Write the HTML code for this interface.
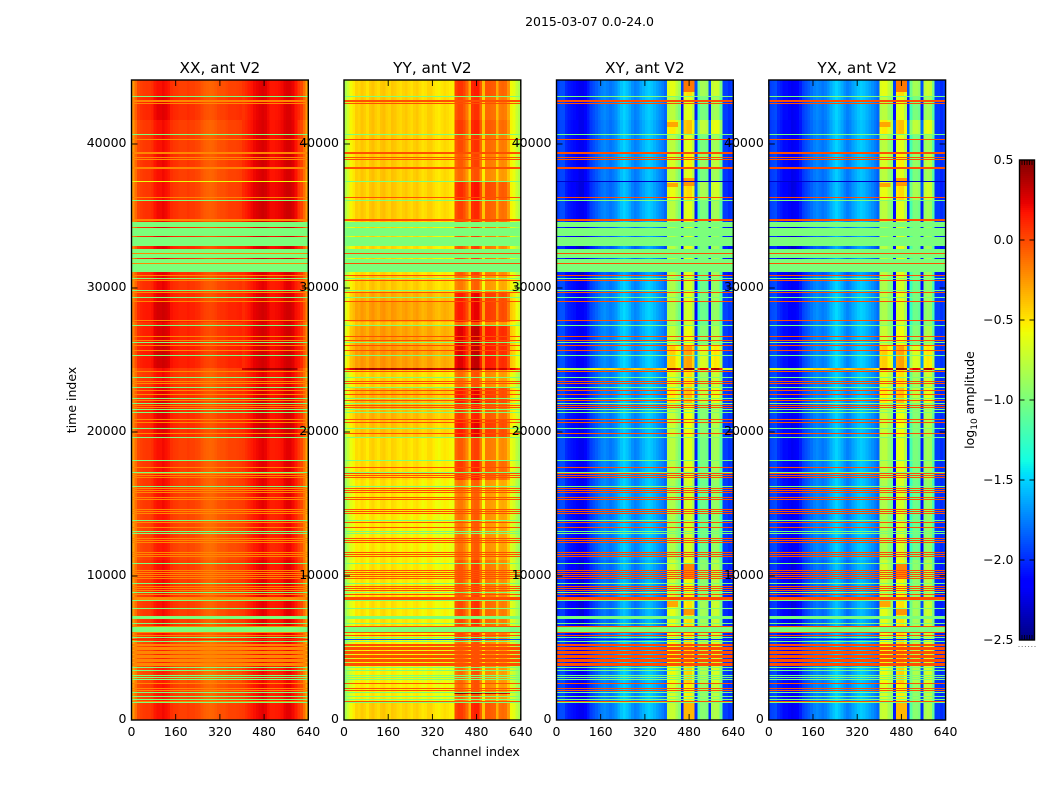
<!DOCTYPE html>
<html lang="en">
<head>
<meta charset="utf-8">
<title>2015-03-07 amplitude waterfall</title>
<style>
html,body{margin:0;padding:0;background:#fff;}
svg{display:block;}
text{font-family:"DejaVu Sans","Liberation Sans",sans-serif;font-size:12.5px;fill:#000;}
</style>
</head>
<body>
<svg id="figure" xmlns="http://www.w3.org/2000/svg" width="1050" height="800" viewBox="0 0 1050 800">
  <g id="heatmaps" shape-rendering="crispEdges"></g>
  <g id="frames"></g>
  <g id="colorbar"></g>
  <g id="labels">
    <text x="589.5" y="26" text-anchor="middle">2015-03-07 0.0-24.0</text>
    <text transform="translate(76,400) rotate(-90)" text-anchor="middle">time index</text>
    <text x="476" y="756" text-anchor="middle">channel index</text>
    <text transform="translate(974,400) rotate(-90)" text-anchor="middle">log<tspan font-size="9" dy="3">10</tspan><tspan dy="-3"> amplitude</tspan></text>
  </g>
</svg>
<script>
// ---------- chart data ----------
const panelNames = ["XX", "YY", "XY", "YX"];
const channelTicks = [0, 160, 320, 480, 640];
const timeTicks = [0, 10000, 20000, 30000, 40000];
const colorbarTicks = [0.5, 0.0, -0.5, -1.0, -1.5, -2.0, -2.5];
const channelMax = 640;
const timeMax = 44444;
const colorMin = -2.5;
const colorMax = 0.5;
const channelBinWidth = 10;
const highBandStart = 400;
const highBandEnd = 600;
const rowSpan = 69.44;

// log10 amplitude per channel bin (10 channels each), one array per polarisation
const xxProfile = [-0.25,-0.12,0,0.03,0.05,0.06,0.06,0.08,0.15,0.18,0.18,0.2,0.18,0.15,0.08,0.06,0.05,0.03,0.03,0.03,0.05,0.03,0.03,0.01,0,-0.04,-0.07,-0.08,-0.09,-0.08,-0.06,-0.03,-0.02,-0.02,0,0.02,0.02,0.02,0.03,0.04,0.05,0.08,0.12,0.15,0.18,0.2,0.22,0.24,0.22,0.18,0.14,0.14,0.15,0.16,0.18,0.22,0.24,0.24,0.2,0.14,0.06,0,-0.12,-0.28];
const yyProfile = [-0.8,-0.68,-0.55,-0.5,-0.42,-0.44,-0.39,-0.42,-0.47,-0.4,-0.37,-0.42,-0.45,-0.39,-0.37,-0.42,-0.44,-0.38,-0.4,-0.44,-0.46,-0.42,-0.4,-0.44,-0.47,-0.42,-0.4,-0.45,-0.49,-0.47,-0.42,-0.42,-0.47,-0.5,-0.52,-0.48,-0.45,-0.47,-0.5,-0.52,-0.1,-0.05,-0.05,-0.1,-0.2,-0.42,0,0.03,0.03,-0.15,-0.48,-0.15,-0.15,-0.17,-0.18,-0.42,-0.22,-0.2,-0.22,-0.35,-0.55,-0.6,-0.72,-0.8];
const xyProfile = [-1.95,-1.9,-1.9,-2,-2.05,-2.08,-2.1,-2.15,-2.2,-2.2,-2.12,-2.05,-1.95,-1.9,-1.85,-1.8,-1.75,-1.72,-1.75,-1.78,-1.75,-1.7,-1.62,-1.55,-1.5,-1.55,-1.62,-1.7,-1.75,-1.72,-1.65,-1.6,-1.55,-1.52,-1.55,-1.6,-1.65,-1.7,-1.75,-1.82,-0.75,-0.72,-0.72,-0.85,-0.95,-2.05,-0.62,-0.58,-0.58,-0.75,-2,-1.15,-0.95,-0.95,-1,-2,-0.85,-0.8,-0.82,-1.1,-1.95,-1.95,-2,-1.95];
const yxProfile = [-1.95,-1.92,-1.9,-2,-2.05,-2.1,-2.1,-2.15,-2.2,-2.18,-2.12,-2.05,-1.95,-1.9,-1.85,-1.8,-1.75,-1.72,-1.75,-1.78,-1.75,-1.7,-1.62,-1.55,-1.5,-1.55,-1.62,-1.7,-1.75,-1.72,-1.65,-1.6,-1.55,-1.52,-1.55,-1.6,-1.65,-1.7,-1.75,-1.82,-0.75,-0.72,-0.72,-0.85,-0.95,-2.05,-0.62,-0.58,-0.58,-0.75,-2,-1.15,-0.95,-0.95,-1,-2,-0.85,-0.8,-0.82,-1.1,-1.95,-1.95,-2,-1.95];

// time zones: upper time of each zone and its amplitude offset in low / high channel bands
const zoneTops = [44444,43333,41667,40694,39444,38333,37431,36111,34583,30903,29653,29028,27639,27361,26042,24444,24306,23056,21944,20833,19583,18056,16667,14583,11111,8333,5556,4097,4028,2569,1875,1806,1181];
const xxLowOffsets  = [0,0.05,0,0,0.02,0,0,0.02,0.05,0.03,0.05,0.1,0.02,0.08,0.1,0,0,0.05,0.05,0.05,0,0,0,-0.03,0,0,-0.05,-0.05,-0.05,-0.02,-0.02,-0.02,0];
const xxHighOffsets = [0.02,0.02,0.03,0.03,0.05,0.03,0.06,0.06,0.04,0,0.03,0.05,0.02,0.05,0.05,0.25,0,0.03,0.03,0.05,0,0.01,0,-0.03,0,0,-0.03,-0.03,-0.03,-0.02,-0.02,-0.02,0];
const yyLowOffsets  = [-0.02,0,0,0,0,0,0,0,-0.05,0,0.1,0.14,0.03,0.14,0.16,0.82,-0.02,0.08,0.06,0.02,-0.05,-0.05,-0.08,-0.1,-0.08,-0.08,-0.12,-0.12,-0.12,-0.1,-0.1,-0.1,-0.02];
const yyHighOffsets = [0.12,0.05,0.1,0.05,0,-0.05,0.15,0.08,0,-0.1,0.2,0.2,-0.05,0.3,0.3,0.5,-0.05,0.2,0.1,0.2,0,0.1,-0.1,-0.08,0,0.05,-0.05,0.5,-0.05,-0.05,0.55,-0.05,0.1];
const xyLowOffsets  = [0,0,-0.02,0,0,-0.02,-0.05,0,-0.1,0,0,0.02,0,0,0.02,1.3,0,0,0,-0.02,0,0,0,0,-0.05,-0.05,0,0,0,0,0,0,0];
const xyHighOffsets = [0.1,-0.05,0.2,-0.05,0.05,-0.05,0.12,-0.05,-0.05,-0.1,-0.05,-0.1,-0.1,0,0.3,1.2,0.1,0.2,0,0,-0.05,-0.05,-0.1,-0.1,0.02,0.1,0.15,0.15,0.15,0.05,0.05,0.05,0];

// hot patches seen in the cross-hand panels
const patchTimeTops = [44444,41528,37639,37292,10903,8264,7778,1181];
const patchTimeBottoms = [43611,41181,37083,37014,9861,7847,7292,0];
const patchChannelStarts = [460,400,460,400,460,400,460,460];
const patchChannelEnds = [500,440,500,440,500,440,500,500];
const patchValues = [-0.15,-0.3,-0.25,-0.3,-0.2,-0.3,-0.25,-0.35];

// flagged rows (upper time of each single row)
const orangeRows = [43056,42986,42847,40347,39444,39375,39097,38958,38403,38333,36319,34792,34722,32431,31736,30903,30556,29722,29097,27778,26667,26389,26042,25694,24236,23542,23403,22917,22639,22222,21875,21736,20903,20694,19931,17569,17153,17014,16875,16111,15972,15833,15486,15347,14653,14514,14375,13750,13403,12639,12500,12361,11667,11528,11389,10417,10278,10139,10000,9861,9306,9167,9028,8750,8542,8472,8403,6528,6111,5903,5278,5208,5069,5000,4931,4792,4722,4653,4514,4444,4375,4236,4167,4097,3958,3889,3819,2569,2222,2083,1319];
const orangeValueByPanel = [-0.2,-0.02,-0.02,-0.02];
const greenRows = [43333,40694,36111,30694,29861,29375,27431,26250,25347,23819,23125,22361,22014,21597,21389,20278,19653,18056,17222,16250,13889,13125,12986,10903,9514,8889,8333,7778,7222,7153,7083,6736,5764,5486,3681,3472,3125,2986,2847,1944,1667,1458,1250];
const greenBandTops = [34583,34167,33542,32708,32014,6458];
const greenBandBottoms = [34236,33611,32917,32083,31111,6111];
const flagValue = -1.0;
const oddRowTimes = [37431,5625];
const oddRowXX = [-0.6,0.1];
const oddRowYY = [-1.0,-1.9];
const oddRowXY = [-2.3,-2.0];

// ---------- layout ----------
const plotTop = 80, plotBottom = 720, plotWidth = 176.8;
const panelLefts = [131.5, 344, 556.5, 768.8];
const cbar = {x: 1019.5, y: 160, w: 15, h: 480};
const NS = "http://www.w3.org/2000/svg";

function yScale(t) { return plotBottom - t * (plotBottom - plotTop) / timeMax; }
function xScale(ch, left) { return left + ch * plotWidth / channelMax; }
function cbarScale(v) { return cbar.y + (colorMax - v) * cbar.h / (colorMax - colorMin); }

function ramp(f, pts) {
  for (let i = 1; i < pts.length; i++) {
    if (f <= pts[i][0]) {
      const a = pts[i - 1], b = pts[i];
      return a[1] + (b[1] - a[1]) * (f - a[0]) / (b[0] - a[0]);
    }
  }
  return pts[pts.length - 1][1];
}
function jet(v) {
  const f = Math.max(0, Math.min(1, (v - colorMin) / (colorMax - colorMin)));
  const r = ramp(f, [[0,0],[0.35,0],[0.66,1],[0.89,1],[1,0.5]]);
  const g = ramp(f, [[0,0],[0.125,0],[0.375,1],[0.64,1],[0.91,0],[1,0]]);
  const b = ramp(f, [[0,0.5],[0.11,1],[0.34,1],[0.65,0],[1,0]]);
  return "rgb(" + Math.round(r * 255) + "," + Math.round(g * 255) + "," + Math.round(b * 255) + ")";
}
function svgEl(tag, parent, attrs) {
  const el = document.createElementNS(NS, tag);
  for (const k in attrs) el.setAttribute(k, attrs[k]);
  parent.appendChild(el);
  return el;
}

const heatmaps = document.getElementById("heatmaps");
const frames = document.getElementById("frames");
const labels = document.getElementById("labels");
const colorbar = document.getElementById("colorbar");

const profiles = [xxProfile, yyProfile, xyProfile, yxProfile];
const lowOffsets = [xxLowOffsets, yyLowOffsets, xyLowOffsets, xyLowOffsets];
const highOffsets = [xxHighOffsets, yyHighOffsets, xyHighOffsets, xyHighOffsets];
const oddRowValues = [oddRowXX, oddRowYY, oddRowXY, oddRowXY];

function drawRowRect(group, left, topT, bottomT, value, name) {
  const y0 = Math.round(yScale(topT));
  const y1 = Math.round(yScale(bottomT));
  const r = svgEl("rect", group, {x: left, y: y0, width: plotWidth, height: Math.max(1, y1 - y0), fill: jet(value)});
  
  
}

panelNames.forEach(function (name, p) {
  const left = panelLefts[p];
  const group = svgEl("g", heatmaps, {});
  
  

  // zone cells
  zoneTops.forEach(function (top, z) {
    const bottom = z + 1 < zoneTops.length ? zoneTops[z + 1] : 0;
    const y0 = Math.round(yScale(top));
    const y1 = Math.round(yScale(bottom));
    profiles[p].forEach(function (base, b) {
      const ch = b * channelBinWidth;
      const inHigh = ch >= highBandStart && ch < highBandEnd;
      const value = base + (inHigh ? highOffsets[p][z] : lowOffsets[p][z]);
      const x0 = xScale(ch, left);
      const x1 = xScale(ch + channelBinWidth, left);
      const cell = svgEl("rect", group, {x: x0.toFixed(2), y: y0, width: (x1 - x0 + 0.4).toFixed(2), height: y1 - y0, fill: jet(value)});
      
      
    });
  });

  // hot patches (cross-hand panels only)
  if (p >= 2) {
    patchValues.forEach(function (value, i) {
      const x0 = xScale(patchChannelStarts[i], left);
      const x1 = xScale(patchChannelEnds[i], left);
      const y0 = Math.round(yScale(patchTimeTops[i]));
      const y1 = Math.round(yScale(patchTimeBottoms[i]));
      const patch = svgEl("rect", group, {x: x0.toFixed(2), y: y0, width: (x1 - x0).toFixed(2), height: y1 - y0, fill: jet(value)});
      
      
    });
  }

  // flagged bands and rows
  greenBandTops.forEach(function (top, i) {
    drawRowRect(group, left, top, greenBandBottoms[i], flagValue, "flagged-band");
  });
  greenRows.forEach(function (t) {
    drawRowRect(group, left, t, t - rowSpan, flagValue, "flagged-row");
  });
  orangeRows.forEach(function (t) {
    drawRowRect(group, left, t, t - rowSpan, orangeValueByPanel[p], "saturated-row");
  });
  oddRowTimes.forEach(function (t, i) {
    drawRowRect(group, left, t, t - rowSpan, oddRowValues[p][i], "odd-row");
  });

  // frame
  const frame = svgEl("rect", frames, {x: left, y: plotTop, width: plotWidth, height: plotBottom - plotTop, fill: "none", stroke: "#000", "stroke-width": 1.4});
  
  

  // x ticks
  channelTicks.forEach(function (ch) {
    const x = xScale(ch, left);
    const bottomTick = svgEl("line", frames, {x1: x, x2: x, y1: plotBottom, y2: plotBottom - 6, stroke: "#000", "stroke-width": 0.9});
    
    
    const topTick = svgEl("line", frames, {x1: x, x2: x, y1: plotTop, y2: plotTop + 6, stroke: "#000", "stroke-width": 0.9});
    
    
    const label = svgEl("text", labels, {x: x, y: 736, "text-anchor": "middle"});
    label.textContent = String(ch);
    
    
  });

  // y ticks
  timeTicks.forEach(function (t) {
    const y = yScale(t);
    const leftTick = svgEl("line", frames, {x1: left, x2: left + 6, y1: y, y2: y, stroke: "#000", "stroke-width": 0.9});
    
    
    const rightTick = svgEl("line", frames, {x1: left + plotWidth, x2: left + plotWidth - 6, y1: y, y2: y, stroke: "#000", "stroke-width": 0.9});
    
    
    const label = svgEl("text", labels, {x: left - 5, y: y + 3, "text-anchor": "end"});
    label.textContent = String(t);
    
    
  });

  // title
  const title = svgEl("text", labels, {x: left + plotWidth / 2, y: 73, "text-anchor": "middle", style: "font-size:15.3px"});
  title.textContent = name + ", ant V2";
  
  
});

// ---------- colorbar ----------
const cbarSteps = 240;
for (let i = 0; i < cbarSteps; i++) {
  const v = colorMax - (i + 0.5) * (colorMax - colorMin) / cbarSteps;
  const seg = svgEl("rect", colorbar, {x: cbar.x, y: cbar.y + i * cbar.h / cbarSteps, width: cbar.w, height: cbar.h / cbarSteps + 0.4, fill: jet(v), "shape-rendering": "crispEdges"});
  
  
}
const cbarFrame = svgEl("rect", colorbar, {x: cbar.x, y: cbar.y, width: cbar.w, height: cbar.h, fill: "none", stroke: "#000", "stroke-width": 1.4});



colorbarTicks.forEach(function (v) {
  const y = cbarScale(v);
  const leftTick = svgEl("line", colorbar, {x1: cbar.x, x2: cbar.x + 5, y1: y, y2: y, stroke: "#000", "stroke-width": 0.9});
  
  
  const rightTick = svgEl("line", colorbar, {x1: cbar.x + cbar.w, x2: cbar.x + cbar.w - 5, y1: y, y2: y, stroke: "#000", "stroke-width": 0.9});
  
  
  const label = svgEl("text", labels, {x: cbar.x - 6, y: y + 4, "text-anchor": "end"});
  label.textContent = v.toFixed(1).replace("-", "\u2212");
  
  
});

for (let i = 1; i < 6; i++) {
  const x = cbar.x + i * cbar.w / 6;
  const topMark = svgEl("line", colorbar, {x1: x, x2: x, y1: cbar.y, y2: cbar.y + 5, stroke: "#000", "stroke-width": 0.8});
  
  
  const bottomMark = svgEl("line", colorbar, {x1: x, x2: x, y1: cbar.y + cbar.h, y2: cbar.y + cbar.h - 5, stroke: "#000", "stroke-width": 0.8});
  
  
}
for (let i = 0; i < 6; i++) {
  const dot = svgEl("rect", colorbar, {x: cbar.x - 1 + i * 3.2, y: 646, width: 1, height: 1, fill: "#777"});
  
  
}
</script>
</body>
</html>
